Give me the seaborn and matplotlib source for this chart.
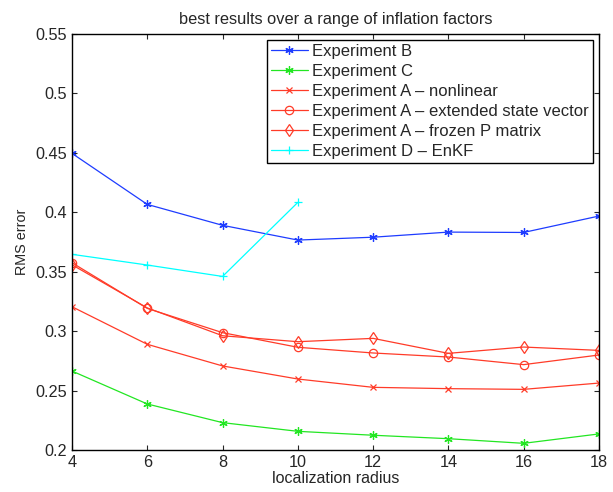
import matplotlib
matplotlib.use("Agg")
import matplotlib.pyplot as plt
import seaborn as sns
import pandas as pd

radius = [4, 6, 8, 10, 12, 14, 16, 18]
exp_b = [0.4495, 0.4066, 0.389, 0.3766, 0.379, 0.3833, 0.383, 0.3968]
exp_c = [0.2664, 0.2387, 0.223, 0.2157, 0.2124, 0.2095, 0.2056, 0.2135]
exp_a_nonlinear = [0.3205, 0.2889, 0.2707, 0.2597, 0.2527, 0.2516, 0.2510, 0.2563]
exp_a_extended = [0.3575, 0.3191, 0.2987, 0.2864, 0.2816, 0.2782, 0.2718, 0.2799]
exp_a_frozen = [0.3558, 0.3195, 0.2961, 0.2911, 0.2939, 0.2813, 0.2866, 0.2838]
radius_d = [4, 6, 8, 10]
exp_d = [0.3646, 0.3556, 0.346, 0.4083]

labels = ["Experiment B", "Experiment C", "Experiment A \u2013 nonlinear",
          "Experiment A \u2013 extended state vector",
          "Experiment A \u2013 frozen P matrix", "Experiment D \u2013 EnKF"]
xticks = [4, 6, 8, 10, 12, 14, 16, 18]
yticks = [0.2, 0.25, 0.3, 0.35, 0.4, 0.45, 0.5, 0.55]
ytick_labels = ["0.2", "0.25", "0.3", "0.35", "0.4", "0.45", "0.5", "0.55"]

sns.set_style("ticks")
plt.rcParams["font.family"] = ["Liberation Sans", "DejaVu Sans"]
plt.rcParams["xtick.direction"] = "in"
plt.rcParams["ytick.direction"] = "in"

fig = plt.figure(figsize=(6.13, 4.92), dpi=100)
ax = fig.add_axes([0.1175, 0.0854, 0.8595, 0.8456])

blue = "#1e3cff"
green = "#22e622"
red = "#ff3b28"
cyan = "#00ffff"
asterisk = (6, 2, 0)

series = [
    (radius, exp_b, labels[0], blue, asterisk, blue, 6),
    (radius, exp_c, labels[1], green, asterisk, green, 6),
    (radius, exp_a_nonlinear, labels[2], red, "x", red, 4),
    (radius, exp_a_extended, labels[3], red, "o", "none", 6),
    (radius, exp_a_frozen, labels[4], red, "d", "none", 6.5),
    (radius_d, exp_d, labels[5], cyan, "+", cyan, 6),
]
for xs, ys, lab, col, mk, mfc, ms in series:
    df = pd.DataFrame({"x": xs, "y": ys})
    sns.lineplot(data=df, x="x", y="y", ax=ax, color=col, marker=mk,
                 markerfacecolor=mfc, markeredgecolor=col, markersize=ms,
                 markeredgewidth=0.9, linewidth=0.9, label=lab)

ax.set_xlim(4, 18)
ax.set_ylim(0.2, 0.55)
ax.set_xticks(xticks)
ax.set_xticklabels([str(t) for t in xticks])
ax.set_yticks(yticks)
ax.set_yticklabels(ytick_labels)
ax.tick_params(axis="both", which="both", labelsize=11.7, length=3.6, width=0.8,
               top=True, right=True, pad=3.5)
for s in ax.spines.values():
    s.set_visible(True)
    s.set_linewidth(1.0)
    s.set_color("black")

ax.set_xlabel("localization radius", fontsize=11.5, labelpad=1)
ax.set_ylabel("RMS error", fontsize=10.4, labelpad=5)
ax.set_title("best results over a range of inflation factors", fontsize=11.8, pad=7)

leg = ax.legend(loc="upper right", bbox_to_anchor=(0.9886, 0.9856), fontsize=12,
                frameon=True, fancybox=False, edgecolor="black",
                handlelength=2.2, handletextpad=0.25, borderpad=0.25,
                labelspacing=0.3, borderaxespad=0.0)
leg.get_frame().set_linewidth(1.0)
leg.get_frame().set_alpha(1)

fig.savefig("out.png", dpi=100)
